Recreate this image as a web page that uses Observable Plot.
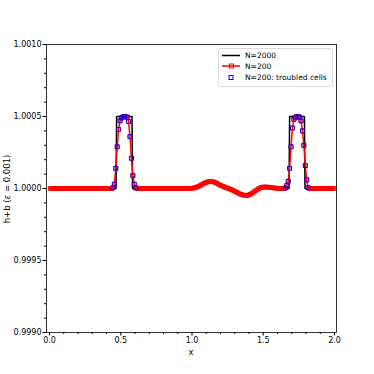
<!DOCTYPE html>
<html>
<head>
<meta charset="utf-8">
<script src="https://cdn.jsdelivr.net/npm/d3@7"></script>
<script src="https://cdn.jsdelivr.net/npm/@observablehq/plot@0.6"></script>
<style>
  html, body { margin: 0; padding: 0; background: #fff; }
</style>
</head>
<body>
<div id="chart"></div>
<script>
// ---- data ----
// N=200 cell values (h+b), cell centres 0.005, 0.015, ..., 1.995
const n200Values = [
  1,1,1,1,1,1,1,1,1,1,
  1,1,1,1,1,1,1,1,1,1,
  1,1,1,1,1,1,1,1,1,1,
  1,1,1,1,1,1,1,1,1,1,
  1,1,1,1,1.000005,1.00003,1.00014,1.00029,1.00041,1.00047,
  1.00049,1.000497,1.0005,1.0005,1.000495,1.000465,1.00036,1.00021,1.00009,1.00003,
  1.000005,1,1,1,1,1,1,1,1,1,
  1,1,1,1,1,1,1,1,1,1,
  1,1,1,1,1,1,1,1,1,1,
  1,1,1,1,1,1,1,1,1,1.000001,
  1.000002,1.000004,1.000007,1.00001,1.000014,1.000019,1.000025,1.00003,1.000036,1.00004,
  1.000044,1.000047,1.000048,1.000048,1.000047,1.000045,1.000041,1.000036,1.00003,1.000024,
  1.00002,1.000016,1.000012,1.000008,1.000004,1.000001,0.999997,0.999993,0.999988,0.999983,
  0.999978,0.999973,0.999968,0.999963,0.999959,0.999956,0.999953,0.999952,0.999952,0.999954,
  0.999958,0.999963,0.999969,0.999976,0.999983,0.99999,0.999997,1.000003,1.000007,1.000009,
  1.00001,1.00001,1.00001,1.000009,1.000008,1.000007,1.000005,1.000004,1.000003,1.000002,
  1.000001,1,1,1,1,1.000003,1.00002,1.00005,1.00014,1.00029,
  1.00042,1.00048,1.000495,1.0005,1.0005,1.000495,1.00047,1.0004,1.0003,1.00016,
  1.00006,1.000005,1,1,1,1,1,1,1,1,
  1,1,1,1,1,1,1,1,1,1
];
const n200X = n200Values.map((_, i) => 0.005 + 0.01 * i);

// troubled cell indices (N=200)
const troubledIdx = [44,45,46,47,48,49,50,51,52,54,55,56,57,58,59,60,
                     165,166,167,168,169,170,171,172,174,175,176,177,178,179,180,181];

// N=2000 reference solution (breakpoints)
const n2000X = [0, 0.467, 0.471, 0.474, 0.576, 0.579, 0.583, 0.99, 1.05, 1.13, 1.2, 1.26, 1.32, 1.375, 1.43, 1.475, 1.52, 1.58, 1.64, 1.681, 1.685, 1.688, 1.786, 1.789, 1.793, 2.0];
const n2000Y = [1, 1, 1.0005, 1.0005, 1.0005, 1.0005, 1, 1, 1.000019, 1.000048, 1.00002, 0.999997, 0.999968, 0.999952, 0.999969, 1.000003, 1.00001, 1.000004, 1, 1, 1.0005, 1.0005, 1.0005, 1.0005, 1, 1];

const xTicks = [0, 0.5, 1.0, 1.5, 2.0];
const xMinorTicks = [0.1,0.2,0.3,0.4,0.6,0.7,0.8,0.9,1.1,1.2,1.3,1.4,1.6,1.7,1.8,1.9];
const yTicks = [0.999, 0.9995, 1.0, 1.0005, 1.001];
const yMinorTicks = [0.9991,0.9992,0.9993,0.9994,0.9996,0.9997,0.9998,0.9999,1.0001,1.0002,1.0003,1.0004,1.0006,1.0007,1.0008,1.0009];

const legendLabels = ["N=2000", "N=200", "N=200: troubled cells"];

// ---- tables ----
const n200 = n200X.map((x, i) => ({x, y: n200Values[i]}));
const troubled = troubledIdx.map(i => n200[i]);
const n2000 = n2000X.map((x, i) => ({x, y: n2000Y[i]}));

const W = 374, H = 374;
const chart = Plot.plot({
  width: W, height: H,
  marginLeft: 46, marginRight: 38, marginTop: 44, marginBottom: 42,
  style: {fontFamily: "DejaVu Sans", fontSize: "8px", color: "#000", background: "#fff"},
  x: {domain: [0, 2], range: [49, 334]},
  y: {domain: [0.999, 1.001]},
  marks: [
    Plot.line(n2000, {x: "x", y: "y", stroke: "#000", strokeWidth: 1.5}),
    Plot.line(n200, {x: "x", y: "y", stroke: "#ff0000", strokeWidth: 1.5}),
    Plot.dot(n200, {x: "x", y: "y", symbol: "square", r: 2.1, stroke: "#ff0000", strokeWidth: 1, fill: "none"}),
    Plot.dot(troubled, {x: "x", y: "y", symbol: "square", r: 2.3, stroke: "#0000ff", strokeWidth: 1, fill: "none", strokeOpacity: 0.85}),
    Plot.frame({stroke: "#000", strokeWidth: 0.8}),
    Plot.axisX({ticks: xTicks, tickSize: 3.5, tickPadding: 1.5, tickFormat: d3.format(".1f"), label: null, stroke: "#000"}),
    Plot.axisX({ticks: xMinorTicks, tickSize: 2, tickFormat: () => "", label: null, stroke: "#000"}),
    Plot.axisY({ticks: yTicks, tickSize: 3.5, tickPadding: 1.5, tickFormat: d3.format(".4f"), label: null, stroke: "#000"}),
    Plot.axisY({ticks: yMinorTicks, tickSize: 2, tickFormat: () => "", label: null, stroke: "#000"})
  ]
});
document.getElementById("chart").appendChild(chart);

// ---- labels and legend ----
const svg = d3.select(chart);
svg.append("text").attr("x", 191).attr("y", 355).attr("text-anchor", "middle")
  .attr("font-family", "DejaVu Sans").attr("font-size", 8.5).attr("fill", "#000").text("x");
const yl = svg.append("text").attr("transform", "translate(10,189) rotate(-90)")
  .attr("text-anchor", "middle").attr("font-family", "DejaVu Sans").attr("font-size", 8.5).attr("fill", "#000");
yl.append("tspan").text("h+b (");
yl.append("tspan").attr("font-style", "italic").text("ε");
yl.append("tspan").text(" = 0.001)");

const lg = svg.append("g").attr("text-anchor", "start");
lg.append("rect").attr("x", 218.5).attr("y", 48.5).attr("width", 114).attr("height", 38)
  .attr("rx", 2).attr("fill", "#fff").attr("fill-opacity", 0.8).attr("stroke", "#d0d0d0").attr("stroke-width", 0.8);
const rowsY = [55.5, 66, 77.5];
lg.append("line").attr("x1", 222).attr("x2", 240).attr("y1", rowsY[0]).attr("y2", rowsY[0]).attr("stroke", "#000").attr("stroke-width", 1.5);
lg.append("line").attr("x1", 222).attr("x2", 240).attr("y1", rowsY[1]).attr("y2", rowsY[1]).attr("stroke", "#ff0000").attr("stroke-width", 1.5);
lg.append("rect").attr("x", 229.5).attr("y", rowsY[1] - 2).attr("width", 4).attr("height", 4).attr("fill", "none").attr("stroke", "#ff0000").attr("stroke-width", 1);
lg.append("rect").attr("x", 229).attr("y", rowsY[2] - 2).attr("width", 4).attr("height", 4).attr("fill", "none").attr("stroke", "#0000ff").attr("stroke-width", 1);
legendLabels.forEach((t, i) => {
  lg.append("text").attr("x", 245).attr("y", rowsY[i]).attr("dy", "0.35em").attr("text-anchor", "start")
    .attr("font-family", "DejaVu Sans").attr("font-size", 7.5).attr("fill", "#000").text(t);
});
</script>
</body>
</html>
